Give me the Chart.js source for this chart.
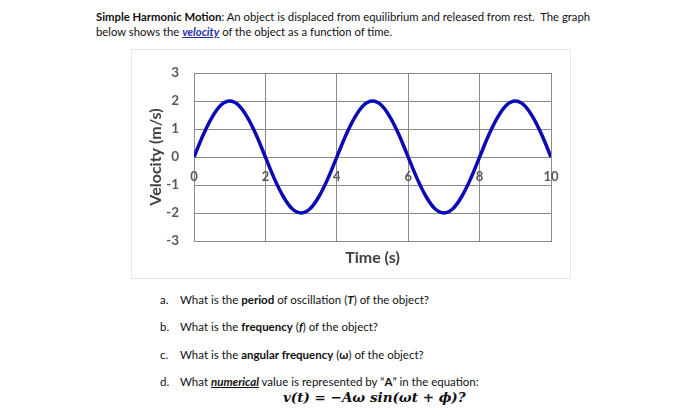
<!DOCTYPE html>
<html>
<head>
<meta charset="utf-8">
<script src="https://cdn.jsdelivr.net/npm/chart.js@4.4.0/dist/chart.umd.min.js"></script>
<style>
  body { margin: 0; background: #fff; width: 700px; height: 418px; position: relative; overflow: hidden; font-family: Lato, "Open Sans", sans-serif; color: #111; }
  .intro { position: absolute; left: 96px; top: 9px; width: 560px; font-size: 11.3px; line-height: 15px; white-space: nowrap; }
  .intro a { color: #1f2fa8; font-weight: bold; font-style: italic; text-decoration: underline; }
  .frame { position: absolute; left: 131px; top: 49px; width: 438px; height: 228px; border: 1px solid #e4e4e4; }
  .q { position: absolute; left: 160px; font-size: 11.5px; }
  .q span.l { display: inline-block; width: 20px; }
  .eq { position: absolute; left: 283px; top: 389px; font-family: "DejaVu Serif", serif; font-weight: bold; font-style: italic; font-size: 13.5px; }
</style>
</head>
<body>
<div class="intro"><b>Simple Harmonic Motion</b>: An object is displaced from equilibrium and released from rest.&nbsp; The graph<br>below shows the <a>velocity</a> of the object as a function of time.</div>
<div class="frame"><canvas id="myChart" width="438" height="228"></canvas></div>
<div class="q" style="top:293px"><span class="l">a.</span>What is the <b>period</b> of oscillation (<b><i>T</i></b>) of the object?</div>
<div class="q" style="top:320px"><span class="l">b.</span>What is the <b>frequency</b> (<b><i>f</i></b>) of the object?</div>
<div class="q" style="top:348px"><span class="l">c.</span>What is the <b>angular frequency</b> (<b>ω</b>) of the object?</div>
<div class="q" style="top:375px"><span class="l">d.</span>What <b><i><u>numerical</u></i></b> value is represented by “<b>A</b>” in the equation:</div>
<div class="eq">v(t) = −Aω sin(ωt + ϕ)?</div>
<script>
// time (s) and velocity (m/s)
const times = [0, 0.25, 0.5, 0.75, 1, 1.25, 1.5, 1.75, 2, 2.25, 2.5, 2.75, 3, 3.25, 3.5, 3.75, 4,
  4.25, 4.5, 4.75, 5, 5.25, 5.5, 5.75, 6, 6.25, 6.5, 6.75, 7, 7.25, 7.5, 7.75, 8,
  8.25, 8.5, 8.75, 9, 9.25, 9.5, 9.75, 10]
const velocity = [0, 0.77, 1.41, 1.85, 2, 1.85, 1.41, 0.77, 0, -0.77, -1.41, -1.85, -2, -1.85, -1.41, -0.77, 0,
  0.77, 1.41, 1.85, 2, 1.85, 1.41, 0.77, 0, -0.77, -1.41, -1.85, -2, -1.85, -1.41, -0.77, 0,
  0.77, 1.41, 1.85, 2, 1.85, 1.41, 0.77, 0]
const xTicks = [0, 2, 4, 6, 8, 10]
const yTicks = [-3, -2, -1, 0, 1, 2, 3]

const gridColor = "#8a8a8a"
const labelColor = "#595959"

// x tick labels sit just under the zero line
const zeroLabels = {
  id: "zeroLabels",
  afterDatasetsDraw(chart) {
    const ctx = chart.ctx
    const x = chart.scales.x
    const y = chart.scales.y
    ctx.save()
    ctx.font = "bold 13px Lato"
    ctx.fillStyle = labelColor
    ctx.textAlign = "center"
    ctx.textBaseline = "middle"
    xTicks.forEach((t) => {
      ctx.fillText(String(t), x.getPixelForValue(t), y.getPixelForValue(0) + 20)
    })
    ctx.restore()
  },
}

const ctx = document.getElementById("myChart").getContext("2d")
new Chart(ctx, {
  type: "line",
  data: {
    datasets: [
      {
        data: times.map((t, i) => ({ x: t, y: velocity[i] })),
        borderColor: "#0a0ab4",
        borderWidth: 3.5,
        pointRadius: 0,
        cubicInterpolationMode: "monotone",
      },
    ],
  },
  options: {
    responsive: false,
    animation: false,
    layout: { padding: { top: 15, right: 19, left: 0, bottom: 11 } },
    plugins: { legend: { display: false }, tooltip: { enabled: false } },
    scales: {
      x: {
        type: "linear",
        min: 0,
        max: 10,
        afterBuildTicks: (s) => { s.ticks = xTicks.map((v) => ({ value: v })) },
        ticks: { display: false },
        grid: { color: gridColor, drawTicks: false },
        border: { color: gridColor },
        title: { display: true, text: "Time (s)", color: "#404040", font: { family: "Lato", size: 16, weight: "bold" }, padding: 0 },
        afterFit: (s) => { s.height = 26 },
      },
      y: {
        min: -3,
        max: 3,
        afterBuildTicks: (s) => { s.ticks = yTicks.map((v) => ({ value: v })) },
        ticks: { color: labelColor, font: { family: "Lato", size: 13.5, weight: "bold" }, padding: 15 },
        grid: { color: gridColor, drawTicks: false },
        border: { color: gridColor },
        title: { display: true, text: "Velocity (m/s)", color: "#404040", font: { family: "Lato", size: 16, weight: "bold" }, padding: { top: 14 } },
        afterFit: (s) => { s.width = 62 },
      },
    },
  },
  plugins: [zeroLabels],
})
</script>
</body>
</html>
